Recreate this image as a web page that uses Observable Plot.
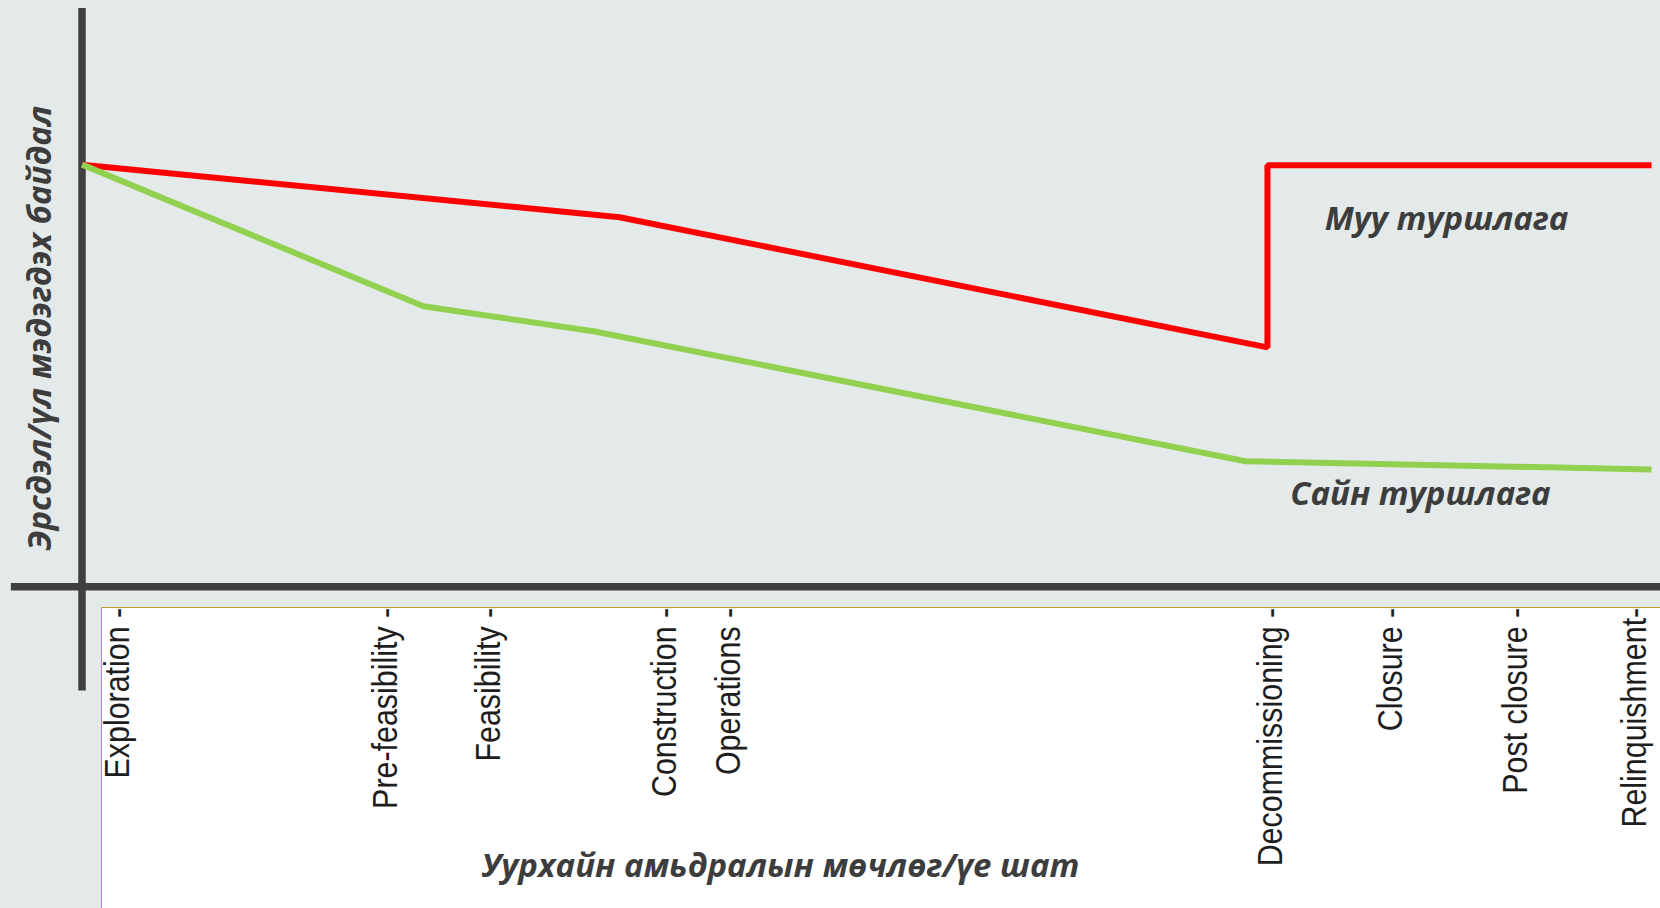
<!DOCTYPE html>
<html><head><meta charset="utf-8">
<script src="https://cdn.jsdelivr.net/npm/d3@7"></script>
<script src="https://cdn.jsdelivr.net/npm/@observablehq/plot@0.6"></script>
<style>
html,body{margin:0;padding:0;background:#e4eaea;}
#wrap{position:relative;width:1660px;height:908px;overflow:hidden;background:#e4eaea;}
#box{position:absolute;left:101px;top:607px;right:0;bottom:0;background:#fff;border-left:1.5px solid #bda034;border-top:1.5px solid #bda034;}
#chart{position:absolute;left:0;top:0;}
</style></head><body>
<div id="wrap"><div id="box"></div><div id="chart"></div></div>
<script>
// Lifecycle stages (tick labels) and their positions along the lifecycle (0–100)
const stageLabels = ["Exploration -", "Pre-feasibility -", "Feasibility -", "Construction -", "Operations -", "Decommissioning -", "Closure -", "Post closure -", "Relinquishment-"];
const stagePos = [2.48, 19.53, 26.09, 37.30, 41.41, 75.94, 83.58, 91.54, 99.1];

// Bad practice ("Муу туршлага") – risk/uncertainty
const badX = [0, 34.25, 75.53, 75.53, 100];
const badY = [73.0, 63.9, 41.4, 72.9, 72.9];

// Good practice ("Сайн туршлага")
const goodX = [0, 21.76, 32.59, 74.13, 100];
const goodY = [73.0, 48.5, 44.2, 21.7, 20.3];

// Series labels
const seriesLabels = ["Муу туршлага", "Сайн туршлага"];
const seriesLabelX = [86.94, 85.28];
const seriesLabelY = [63.5, 16.0];

const yTitle = "Эрсдэл/үл мэдэгдэх байдал";
const xTitle = "Уурхайн амьдралын мөчлөг/үе шат";

const xDomain = [0, 100];
const yDomain = [0, 100];
const axisYLow = -18, axisXLeft = -4.5, axisXRight = 100.6;

const bad = badX.map((x, i) => ({x, y: badY[i]}));
const good = goodX.map((x, i) => ({x, y: goodY[i]}));
const stages = stageLabels.map((label, i) => ({label, x: stagePos[i]}));
const labels = seriesLabels.map((t, i) => ({t, x: seriesLabelX[i], y: seriesLabelY[i]}));

const titleFont = {fontFamily: "'Open Sans', sans-serif", fontWeight: "bold", fontStyle: "italic", fill: "#3d3d3d"};

const chart = Plot.plot({
  width: 1660,
  height: 908,
  marginLeft: 81.5,
  marginRight: 9,
  marginTop: 8,
  marginBottom: 321.7,
  style: {background: "transparent", overflow: "visible"},
  x: {domain: xDomain, axis: null},
  y: {domain: yDomain, axis: null},
  marks: [
    Plot.ruleX([0], {y1: axisYLow, y2: yDomain[1], stroke: "#404040", strokeWidth: 7.5}),
    Plot.ruleY([0], {x1: axisXLeft, x2: axisXRight, stroke: "#404040", strokeWidth: 7.5}),
    Plot.line(bad, {x: "x", y: "y", stroke: "#ff0000", strokeWidth: 6, strokeLinejoin: "miter", strokeLinecap: "butt"}),
    Plot.line(good, {x: "x", y: "y", stroke: "#92d050", strokeWidth: 6, strokeLinejoin: "miter", strokeLinecap: "butt"}),
    Plot.text(labels, {x: "x", y: "y", text: "t", fontSize: 33, ...titleFont}),
    Plot.text(stages, {x: "x", text: "label", frameAnchor: "bottom", rotate: -90, textAnchor: "end", dx: 8.5, dy: 21,
      fontSize: 36, fontFamily: "'Liberation Sans', Arial, sans-serif", fill: "#1e1e1e"}),
    Plot.text([yTitle], {x: -2.64, y: 44.7, text: d => d, rotate: -90, fontSize: 33, ...titleFont}),
    Plot.text([xTitle], {x: 44.5, y: -48.4, text: d => d, fontSize: 33, ...titleFont})
  ]
});
// condense tick labels (narrow face, like the reference's condensed font)
d3.select(chart).selectAll("text")
  .filter(function () { return stageLabels.includes(this.textContent); })
  .attr("transform", function () { return (this.getAttribute("transform") || "") + " scale(0.845,1)"; });
document.getElementById("chart").appendChild(chart);
</script>
</body></html>
